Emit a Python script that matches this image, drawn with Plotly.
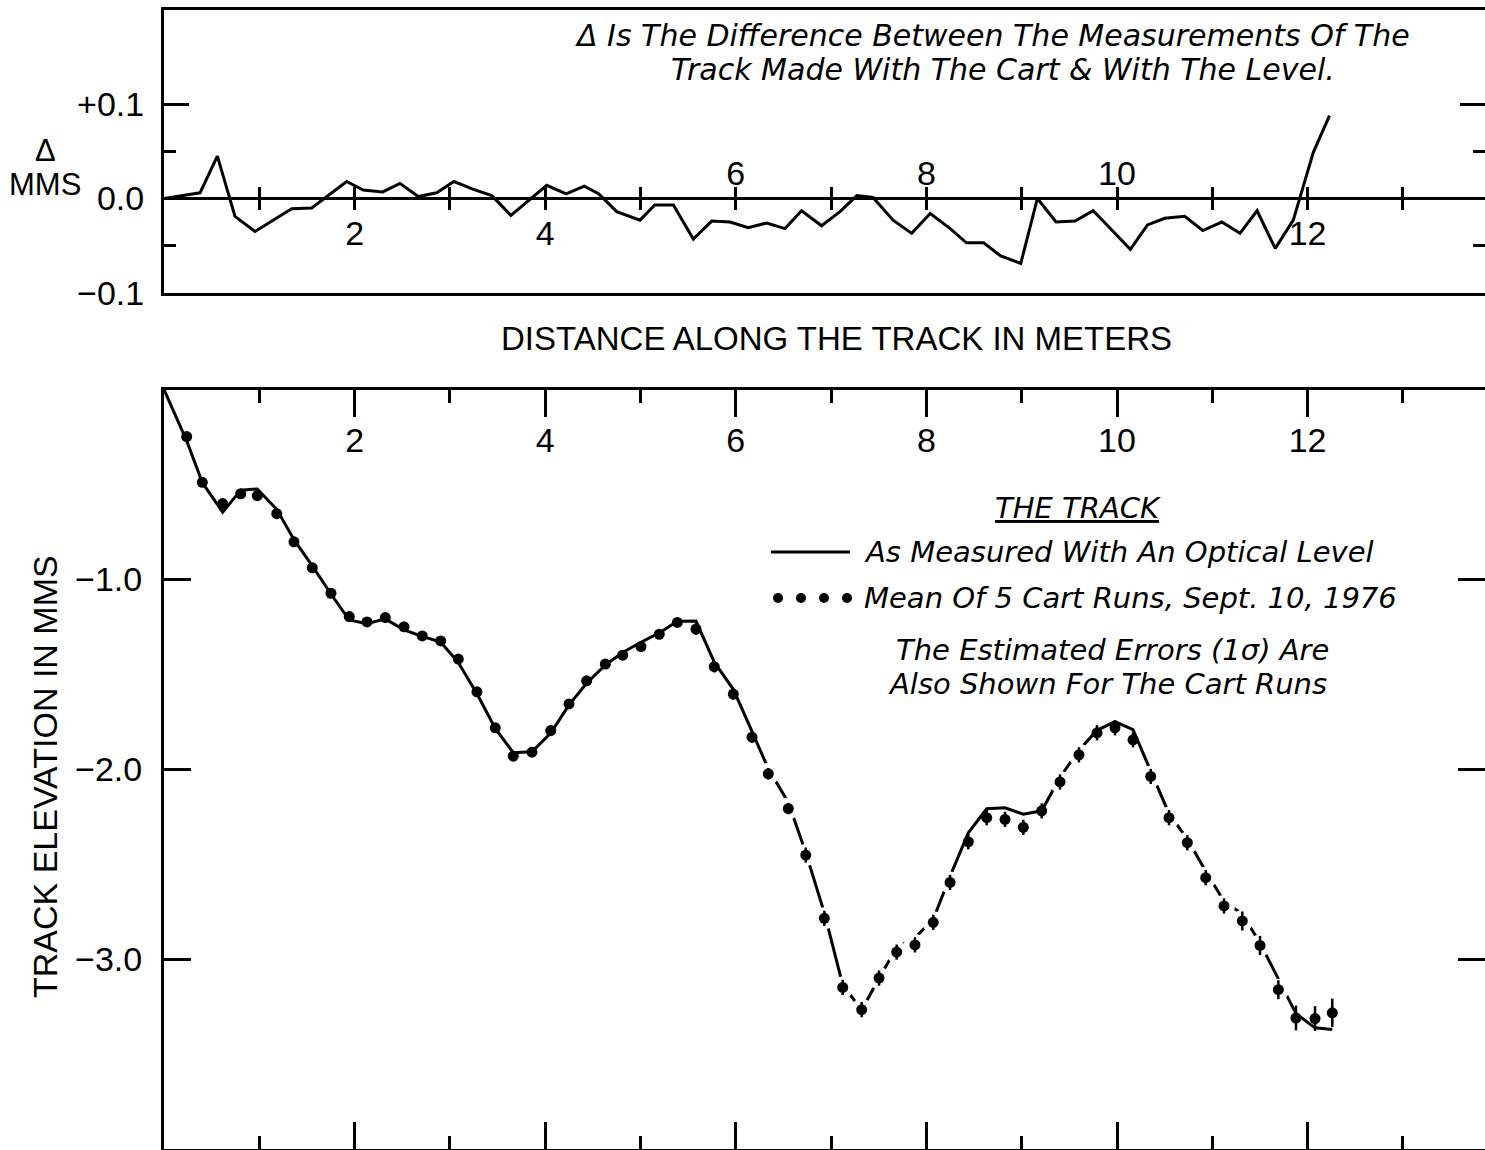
import plotly.graph_objects as go

W, H = 1485, 1150

# ---------------- data ----------------
# Top panel: Delta = cart - level (mm) vs distance (m)
delta_x = [0.0, 0.378, 0.56, 0.745, 0.955, 1.15, 1.34, 1.55, 1.73, 1.917,
           2.09, 2.295, 2.476, 2.668, 2.861, 3.043, 3.24, 3.44, 3.64, 3.83,
           4.016, 4.22, 4.41, 4.56, 4.75, 4.995, 5.15, 5.345, 5.554, 5.747,
           5.94, 6.13, 6.324, 6.516, 6.69, 6.90, 7.093, 7.27, 7.44, 7.65,
           7.846, 8.04, 8.25, 8.42, 8.60, 8.78, 8.99, 9.165, 9.36, 9.56,
           9.75, 9.95, 10.14, 10.32, 10.50, 10.71, 10.90, 11.10, 11.29, 11.47,
           11.66, 11.85, 12.06, 12.23]
delta_mm = [0.0, 0.006, 0.045, -0.019, -0.035, -0.023, -0.011, -0.010, 0.004, 0.018,
            0.009, 0.007, 0.016, 0.002, 0.006, 0.018, 0.010, 0.003, -0.018, -0.002,
            0.014, 0.005, 0.013, 0.005, -0.014, -0.023, -0.007, -0.007, -0.043, -0.024,
            -0.025, -0.031, -0.026, -0.032, -0.013, -0.029, -0.014, 0.003, 0.001, -0.023,
            -0.037, -0.016, -0.032, -0.047, -0.047, -0.061, -0.069, 0.0, -0.025, -0.024,
            -0.013, -0.034, -0.054, -0.028, -0.021, -0.019, -0.034, -0.025, -0.037, -0.013,
            -0.053, -0.023, 0.049, 0.088]

# Bottom panel: mean of 5 cart runs (dots) with 1-sigma errors
cart_x = [0.238, 0.402, 0.616, 0.805, 0.979, 1.183, 1.364, 1.556, 1.752, 1.944,
          2.130, 2.322, 2.518, 2.710, 2.903, 3.088, 3.284, 3.476, 3.665, 3.861,
          4.058, 4.250, 4.435, 4.631, 4.813, 5.005, 5.197, 5.386, 5.582, 5.774,
          5.974, 6.170, 6.341, 6.551, 6.734, 6.929, 7.122, 7.321, 7.503, 7.688,
          7.880, 8.072, 8.248, 8.440, 8.633, 8.825, 9.017, 9.210, 9.402, 9.601,
          9.790, 9.979, 10.168, 10.354, 10.546, 10.738, 10.931, 11.123, 11.315, 11.501,
          11.693, 11.878, 12.078, 12.259]
cart_y = [-0.248, -0.489, -0.601, -0.549, -0.559, -0.654, -0.802, -0.939, -1.073, -1.196,
          -1.224, -1.201, -1.250, -1.298, -1.324, -1.420, -1.592, -1.782, -1.931, -1.910,
          -1.796, -1.656, -1.534, -1.446, -1.399, -1.354, -1.289, -1.227, -1.262, -1.460,
          -1.604, -1.831, -2.024, -2.207, -2.452, -2.785, -3.149, -3.266, -3.100, -2.963,
          -2.925, -2.806, -2.596, -2.382, -2.255, -2.264, -2.306, -2.219, -2.067, -1.924,
          -1.808, -1.782, -1.845, -2.038, -2.255, -2.387, -2.571, -2.720, -2.799, -2.928,
          -3.161, -3.310, -3.313, -3.283]
cart_err = [0.02] * 28 + [0.03] * 6 + [0.04] * 24 + [0.05] * 3 + [0.065] * 2 + [0.075]

# Bottom panel: track as measured with an optical level (solid line)
level_x = [0.0, 0.238, 0.402, 0.616, 0.805, 0.979, 1.183, 1.364, 1.556, 1.752, 1.944,
           2.130, 2.322, 2.518, 2.710, 2.903, 3.088, 3.284, 3.476, 3.665, 3.861,
           4.058, 4.250, 4.435, 4.631, 4.813, 5.005, 5.197, 5.386, 5.582, 5.774,
           5.974, 6.170, 6.341, 6.551, 6.734, 6.929, 7.122, 7.321, 7.503, 7.688,
           7.880, 8.072, 8.248, 8.440, 8.633, 8.825, 9.017, 9.210, 9.402, 9.601,
           9.790, 9.979, 10.168, 10.354, 10.546, 10.738, 10.931, 11.123, 11.315, 11.501,
           11.693, 11.878, 12.078, 12.259]
level_y = [0.0, -0.270, -0.490, -0.646, -0.530, -0.524, -0.631, -0.791, -0.929, -1.077, -1.214,
           -1.233, -1.208, -1.266, -1.300, -1.330, -1.438, -1.602, -1.785, -1.913, -1.908,
           -1.810, -1.661, -1.547, -1.451, -1.385, -1.331, -1.282, -1.220, -1.219, -1.436,
           -1.579, -1.800, -1.998, -2.175, -2.439, -2.756, -3.135, -3.269, -3.099, -2.940,
           -2.888, -2.790, -2.564, -2.335, -2.208, -2.203, -2.237, -2.219, -2.042, -1.900,
           -1.795, -1.749, -1.791, -2.010, -2.234, -2.368, -2.537, -2.695, -2.762, -2.915,
           -3.108, -3.287, -3.362, -3.371]

# dots around which the drawn line shows small breaks (1-based index)
gap_dots = list(range(33, 44)) + [49, 50] + list(range(54, 62))

x_major = [2, 4, 6, 8, 10, 12]
x_minor = [1, 3, 5, 7, 9, 11, 13]
x_all = list(range(1, 14))
top_below_labels = {2: "2", 4: "4", 12: "12"}
top_above_labels = {6: "6", 8: "8", 10: "10"}

# ---------------- geometry helpers ----------------
def px(x):
    return x / W


def py(y):
    return 1 - y / H


XMAX = (W - 164) / 95.3
BLACK = "black"
TICKFONT = dict(family="Liberation Sans", size=34, color=BLACK)
ITAL = dict(family="DejaVu Sans", size=30, color=BLACK, style="italic")

fig = go.Figure()

fig.add_trace(go.Scatter(x=delta_x, y=delta_mm, mode="lines",
                         line=dict(color=BLACK, width=3),
                         xaxis="x", yaxis="y", hoverinfo="skip"))

# empty traces so that the crossing tick axes on the zero line get drawn
fig.add_trace(go.Scatter(x=[], y=[], xaxis="x2", yaxis="y", hoverinfo="skip"))
fig.add_trace(go.Scatter(x=[], y=[], xaxis="x4", yaxis="y", hoverinfo="skip"))

fig.add_trace(go.Scatter(x=level_x, y=level_y, mode="lines",
                         line=dict(color=BLACK, width=3),
                         xaxis="x3", yaxis="y3", hoverinfo="skip"))

fig.add_trace(go.Scatter(x=[cart_x[i - 1] for i in gap_dots],
                         y=[cart_y[i - 1] for i in gap_dots],
                         mode="markers",
                         marker=dict(color="white", size=22, line=dict(width=0)),
                         xaxis="x3", yaxis="y3", hoverinfo="skip"))

fig.add_trace(go.Scatter(x=cart_x, y=cart_y, mode="markers",
                         marker=dict(color=BLACK, size=11, line=dict(width=0)),
                         error_y=dict(type="data", array=cart_err, visible=True,
                                      color=BLACK, thickness=2.5, width=0),
                         xaxis="x3", yaxis="y3"))

common_x = dict(range=[0, XMAX], showgrid=False, zeroline=False, automargin=False,
                linecolor=BLACK, tickcolor=BLACK, tickfont=TICKFONT)

fig.update_layout(
    template="none",
    width=W, height=H, autosize=False,
    margin=dict(l=0, r=0, t=0, b=0, pad=0),
    paper_bgcolor="white", plot_bgcolor="rgba(0,0,0,0)",
    showlegend=False,
    font=dict(family="Liberation Sans", color=BLACK, size=34),
    # ---- top panel ----
    xaxis=dict(common_x, domain=[164 / W, 1], anchor="y", showline=True,
               linewidth=3, mirror=True, ticks="", showticklabels=False),
    xaxis2=dict(common_x, overlaying="x", anchor="free", position=py(198),
                side="bottom", showline=False, ticks="outside", ticklen=11,
                tickwidth=3, tickvals=x_all,
                ticktext=[top_below_labels.get(v, "") for v in x_all],
                ticklabelstandoff=-6),
    xaxis4=dict(common_x, overlaying="x", anchor="free", position=py(198),
                side="top", showline=False, ticks="outside", ticklen=11,
                tickwidth=3, tickvals=x_all,
                ticktext=[top_above_labels.get(v, "") for v in x_all],
                ticklabelstandoff=-12),
    yaxis=dict(domain=[py(293), py(10)], range=[-0.1003, 0.2], anchor="x",
               automargin=False,
               showline=True, linecolor=BLACK, linewidth=3, mirror="ticks",
               ticks="inside", ticklen=25, tickwidth=3, tickcolor=BLACK,
               tickvals=[-0.1, 0.0, 0.1], ticktext=["\u22120.1", "0.0", "+0.1"],
               minor=dict(tickvals=[-0.05, 0.05], ticks="inside", ticklen=12,
                          tickwidth=3, tickcolor=BLACK),
               showgrid=False, zeroline=True, zerolinecolor=BLACK, zerolinewidth=3,
               tickfont=TICKFONT, ticklabelstandoff=10),
    # ---- bottom panel ----
    xaxis3=dict(common_x, domain=[164 / W, 1], anchor="y3", side="top",
                showline=True, linewidth=3, mirror="allticks",
                ticks="inside", ticklen=27, tickwidth=3,
                tickvals=x_major, ticktext=[str(v) for v in x_major],
                ticklabelposition="inside", ticklabelstandoff=16,
                minor=dict(tickvals=x_minor, ticks="inside", ticklen=13,
                           tickwidth=3, tickcolor=BLACK)),
    yaxis3=dict(domain=[py(1149), py(389.5)], range=[-4, 0], anchor="x3",
                automargin=False,
                showline=True, linecolor=BLACK, linewidth=3, mirror="ticks",
                ticks="inside", ticklen=27, tickwidth=3, tickcolor=BLACK,
                tickvals=[-1, -2, -3], ticktext=["\u22121.0", "\u22122.0", "\u22123.0"],
                showgrid=False, zeroline=False, tickfont=TICKFONT,
                ticklabelstandoff=12),
)

ann = []


def add_text(text, x, y, font, xanchor="center", angle=0):
    ann.append(dict(text=text, x=px(x), y=py(y), xref="paper", yref="paper",
                    xanchor=xanchor, yanchor="middle", showarrow=False,
                    font=font, textangle=angle))


add_text("\u0394 Is The Difference Between The Measurements Of The", 992, 36, ITAL)
add_text("Track Made With The Cart & With The Level.", 1003, 69, ITAL)
add_text("\u0394", 45, 150, dict(family="Liberation Sans", size=31, color=BLACK))
add_text("MMS", 45, 184, dict(family="Liberation Sans", size=31, color=BLACK))
add_text("DISTANCE ALONG THE TRACK IN METERS", 836, 338,
         dict(family="Liberation Sans", size=33, color=BLACK))
add_text("TRACK ELEVATION IN MMS", 45, 777,
         dict(family="Liberation Sans", size=34, color=BLACK), angle=-90)
add_text("<u>THE TRACK</u>", 1078, 508, dict(ITAL, size=29))
add_text("As Measured With An Optical Level", 862, 552, dict(ITAL, size=29), xanchor="left")
add_text("Mean Of 5 Cart Runs, Sept. 10, 1976", 862, 598, dict(ITAL, size=29), xanchor="left")
add_text("The Estimated Errors (1\u03c3) Are", 1112, 650, dict(ITAL, size=29))
add_text("Also Shown For The Cart Runs", 1107, 684, dict(ITAL, size=29))

shapes = [dict(type="line", xref="paper", yref="paper",
               x0=px(771), x1=px(850), y0=py(552), y1=py(552),
               line=dict(color=BLACK, width=3))]
for cx in (778, 801, 824, 847):
    shapes.append(dict(type="circle", xref="paper", yref="paper",
                       x0=px(cx - 5), x1=px(cx + 5), y0=py(598 + 5), y1=py(598 - 5),
                       fillcolor=BLACK, line=dict(color=BLACK, width=0)))

fig.update_layout(annotations=ann, shapes=shapes)

fig.write_html("out.html", config={"displayModeBar": False},
               post_script="document.documentElement.style.margin='0px';"
                           "document.body.style.margin='0px';"
                           "document.body.style.overflow='hidden';")
